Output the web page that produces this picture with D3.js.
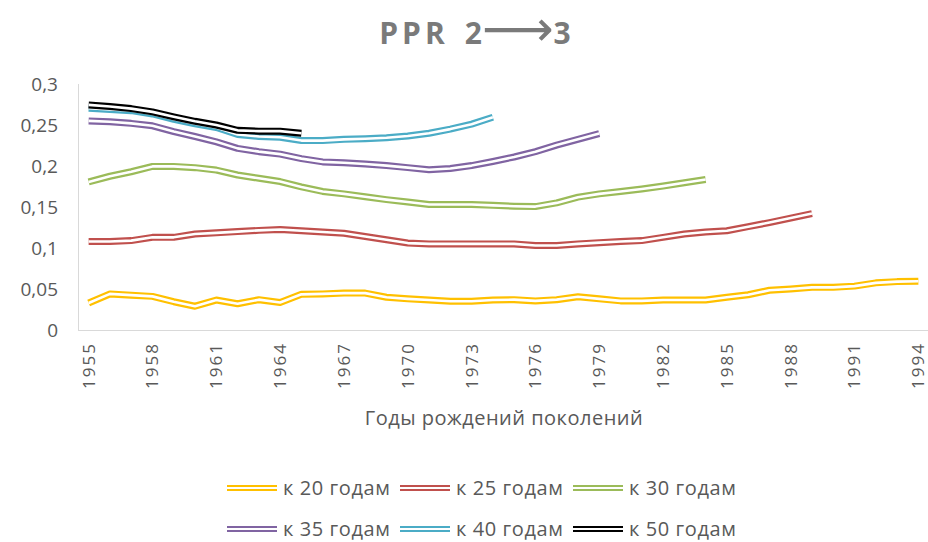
<!DOCTYPE html>
<html>
<head>
<meta charset="utf-8">
<script src="https://cdn.jsdelivr.net/npm/d3@7"></script>
<style>
  body { margin: 0; background: #fff; }
  svg { display: block; font-family: "Open Sans", sans-serif; }
</style>
</head>
<body>
<svg id="chart" width="928" height="542"></svg>
<script>
// Data: share values by birth year of generation, each series starts at 1955
const years = d3.range(1955, 1995);
const tickYears = d3.range(1955, 1995, 3);
const yTicks = [0, 0.05, 0.1, 0.15, 0.2, 0.25, 0.3];

const by20 = [0.033, 0.044, 0.0425, 0.041, 0.0345, 0.029, 0.0365, 0.032, 0.037, 0.0335,
  0.0435, 0.044, 0.045, 0.045, 0.040, 0.038, 0.0365, 0.035, 0.035, 0.0365,
  0.037, 0.0355, 0.037, 0.0405, 0.038, 0.0355, 0.0355, 0.0365, 0.0365, 0.0365,
  0.040, 0.043, 0.0485, 0.050, 0.052, 0.052, 0.0535, 0.0575, 0.059, 0.0595];
const by25 = [0.108, 0.108, 0.109, 0.113, 0.113, 0.117, 0.1185, 0.120, 0.1215, 0.1225,
  0.121, 0.1195, 0.118, 0.114, 0.110, 0.106, 0.105, 0.105, 0.105, 0.105,
  0.105, 0.103, 0.103, 0.105, 0.1065, 0.108, 0.109, 0.113, 0.117, 0.1195,
  0.121, 0.126, 0.131, 0.1365, 0.142];
const by30 = [0.1805, 0.1875, 0.193, 0.1995, 0.1995, 0.198, 0.195, 0.189, 0.185, 0.181,
  0.1745, 0.169, 0.166, 0.1625, 0.159, 0.156, 0.153, 0.153, 0.153, 0.152,
  0.151, 0.1505, 0.155, 0.162, 0.166, 0.169, 0.172, 0.1755, 0.1795, 0.1835];
const by35 = [0.255, 0.254, 0.252, 0.249, 0.242, 0.236, 0.2295, 0.2215, 0.2175, 0.2145,
  0.209, 0.205, 0.204, 0.2025, 0.2005, 0.198, 0.1955, 0.197, 0.2005, 0.2055,
  0.211, 0.2175, 0.2255, 0.2325, 0.2395];
const by40 = [0.2705, 0.269, 0.2675, 0.2635, 0.257, 0.2515, 0.247, 0.2385, 0.236, 0.235,
  0.231, 0.231, 0.2325, 0.2333, 0.2345, 0.2365, 0.240, 0.245, 0.251, 0.2595];
const by50 = [0.2745, 0.2725, 0.270, 0.266, 0.260, 0.2545, 0.250, 0.2435, 0.2425, 0.2425, 0.240];

const seriesNames = ['к 20 годам', 'к 25 годам', 'к 30 годам', 'к 35 годам', 'к 40 годам', 'к 50 годам'];
const seriesValues = [by20, by25, by30, by35, by40, by50];
const colors = ['#FFC000', '#C0504D', '#9BBB59', '#8064A2', '#4BACC6', '#000000'];

const series = seriesNames.map((name, i) => ({
  name,
  color: colors[i],
  points: seriesValues[i].map((v, j) => ({ year: years[j], value: v }))
}));

const svg = d3.select('#chart');
const textColor = '#595959';

const x = d3.scaleLinear().domain([1954.5, 1994.5]).range([78, 929]);
const y = d3.scaleLinear().domain([0, 0.3]).range([330, 84]);

// Title: bold letters, thin long arrow
const title = svg.append('text')
  .attr('x', 475)
  .attr('y', 44)
  .attr('text-anchor', 'middle')
  .attr('fill', '#7a7a7a')
  .style('font-size', '30px')
  .style('font-weight', 'bold');
title.append('tspan').style('letter-spacing', '4px').text('PPR');
title.append('tspan').attr('dx', 16).text('2');
title.append('tspan').attr('dy', 2).style('font-weight', 'normal').style('font-size', '50px')
  .attr('font-family', 'DejaVu Sans').text('⟶');
title.append('tspan').attr('dy', -2).text('3');

// Axis lines
svg.append('line')
  .attr('x1', 78.5).attr('x2', 78.5)
  .attr('y1', y(0.3)).attr('y2', y(0))
  .attr('stroke', '#d9d9d9');
svg.append('line')
  .attr('x1', 78).attr('x2', 928)
  .attr('y1', y(0) + 0.5).attr('y2', y(0) + 0.5)
  .attr('stroke', '#d9d9d9');

// Y tick labels
const fmt = v => String(v).replace('.', ',');
svg.append('g')
  .selectAll('text')
  .data(yTicks)
  .join('text')
  .attr('x', 58)
  .attr('y', d => y(d))
  .attr('dy', '0.35em')
  .attr('text-anchor', 'end')
  .attr('fill', textColor)
  .style('font-size', '19px')
  .text(fmt);

// X tick labels (rotated)
svg.append('g')
  .selectAll('text')
  .data(tickYears)
  .join('text')
  .attr('transform', d => `translate(${x(d)},342) rotate(-90)`)
  .attr('dy', '0.35em')
  .attr('text-anchor', 'end')
  .attr('fill', textColor)
  .style('font-size', '17px')
  .style('letter-spacing', '2px')
  .text(d => d);

// X axis title
svg.append('text')
  .attr('x', 504)
  .attr('y', 425)
  .attr('text-anchor', 'middle')
  .attr('fill', textColor)
  .style('font-size', '20px')
  .style('letter-spacing', '0.5px')
  .text('Годы рождений поколений');

// Lines drawn as double lines: wide colored stroke with a white core
const line = d3.line()
  .x(d => x(d.year))
  .y(d => y(d.value));

const lines = svg.append('g')
  .selectAll('g')
  .data(series)
  .join('g');

lines.append('path')
  .attr('d', d => line(d.points))
  .attr('fill', 'none')
  .attr('stroke', d => d.color)
  .attr('stroke-width', 7)
  .attr('stroke-linejoin', 'round');

lines.append('path')
  .attr('d', d => line(d.points))
  .attr('fill', 'none')
  .attr('stroke', '#fff')
  .attr('stroke-width', 2.6)
  .attr('stroke-linejoin', 'round');

// Legend
const legendX = [227, 400, 573];
const legendY = [488, 529];
const legend = svg.append('g')
  .selectAll('g')
  .data(series)
  .join('g')
  .attr('transform', (d, i) => `translate(${legendX[i % 3]},${legendY[Math.floor(i / 3)]})`);

legend.append('line')
  .attr('x1', 0).attr('x2', 50)
  .attr('stroke', d => d.color)
  .attr('stroke-width', 6);
legend.append('line')
  .attr('x1', 0).attr('x2', 50)
  .attr('stroke', '#fff')
  .attr('stroke-width', 2);
legend.append('text')
  .attr('x', 56)
  .attr('dy', '0.35em')
  .attr('fill', textColor)
  .style('font-size', '20px')
  .style('letter-spacing', '0.6px')
  .text(d => d.name);
</script>
</body>
</html>
